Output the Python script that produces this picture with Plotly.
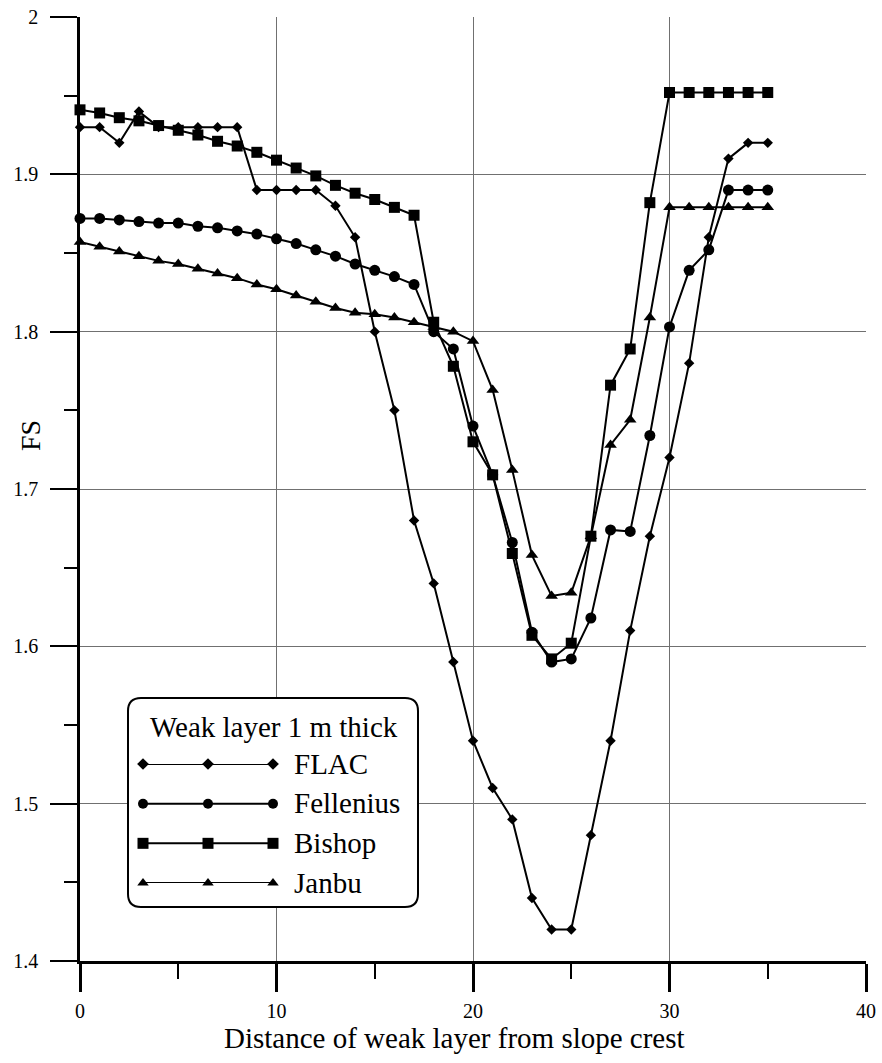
import plotly.graph_objects as go

# ---------------- data ----------------
distance = list(range(0, 36))

flac = [1.93, 1.93, 1.92, 1.94, 1.93, 1.93, 1.93, 1.93, 1.93, 1.89,
        1.89, 1.89, 1.89, 1.88, 1.86, 1.80, 1.75, 1.68, 1.64, 1.59,
        1.54, 1.51, 1.49, 1.44, 1.42, 1.42, 1.48, 1.54, 1.61, 1.67,
        1.72, 1.78, 1.86, 1.91, 1.92, 1.92]

fellenius = [1.872, 1.872, 1.871, 1.870, 1.869, 1.869, 1.867, 1.866, 1.864, 1.862,
             1.859, 1.856, 1.852, 1.848, 1.843, 1.839, 1.835, 1.830, 1.800, 1.789,
             1.740, 1.709, 1.666, 1.609, 1.590, 1.592, 1.618, 1.674, 1.673, 1.734,
             1.803, 1.839, 1.852, 1.890, 1.890, 1.890]

bishop = [1.941, 1.939, 1.936, 1.934, 1.931, 1.928, 1.925, 1.921, 1.918, 1.914,
          1.909, 1.904, 1.899, 1.893, 1.888, 1.884, 1.879, 1.874, 1.806, 1.778,
          1.730, 1.709, 1.659, 1.607, 1.592, 1.602, 1.670, 1.766, 1.789, 1.882,
          1.952, 1.952, 1.952, 1.952, 1.952, 1.952]

janbu = [1.857, 1.854, 1.851, 1.848, 1.845, 1.843, 1.840, 1.837, 1.834, 1.830,
         1.827, 1.823, 1.819, 1.815, 1.812, 1.811, 1.809, 1.806, 1.803, 1.800,
         1.794, 1.763, 1.712, 1.658, 1.632, 1.634, 1.670, 1.728, 1.744, 1.809,
         1.879, 1.879, 1.879, 1.879, 1.879, 1.879]

series_names = ["FLAC", "Fellenius", "Bishop", "Janbu"]
series_values = [flac, fellenius, bishop, janbu]
series_symbols = ["diamond", "circle", "square", "triangle-up"]
series_sizes = [8, 11, 11, 11]
legend_sizes = [9, 10, 11, 10]
legend_title = "Weak layer 1 m thick"

y_tickvals = [1.4, 1.5, 1.6, 1.7, 1.8, 1.9, 2.0]
y_ticktext = ["1.4", "1.5", "1.6", "1.7", "1.8", "1.9", "2"]
x_tickvals = [0, 10, 20, 30, 40]
x_ticktext = ["0", "10", "20", "30", "40"]

legend_sample_x = [0, 0.5, 1]

FONT = "Liberation Serif"
W, H = 882, 1063
ML, MR, MT, MB = 80, 16, 17, 102
PW, PH = W - ML - MR, H - MT - MB
X0, X1 = 0, 40
Y0, Y1 = 1.4, 2.0


def px_to_paper_x(px):
    return (px - ML) / PW


def px_to_paper_y(py):
    return (H - MB - py) / PH


def px_to_data_x(px):
    return X0 + (px - ML) / PW * (X1 - X0)


def px_to_data_y(py):
    return Y1 - (py - MT) / PH * (Y1 - Y0)


fig = go.Figure()

for name, vals, sym, sz in zip(series_names, series_values, series_symbols, series_sizes):
    fig.add_trace(go.Scatter(
        x=distance, y=vals, mode="lines+markers", name=name,
        line=dict(color="black", width=2),
        marker=dict(symbol=sym, size=sz, color="black"),
        showlegend=False, cliponaxis=False,
    ))

# custom legend samples (line with three markers) on an auxiliary axis
n = len(series_names)
for i, (name, sym, sz) in enumerate(zip(series_names, series_symbols, legend_sizes)):
    fig.add_trace(go.Scatter(
        x=legend_sample_x, y=[n - 1 - i] * len(legend_sample_x),
        mode="lines+markers", xaxis="x2", yaxis="y2",
        line=dict(color="black", width=2),
        marker=dict(symbol=sym, size=sz, color="black"),
        showlegend=False, cliponaxis=False, hoverinfo="skip",
    ))

# legend box (rounded) in data coordinates, between grid and data
bl, br = px_to_data_x(128), px_to_data_x(418)
bt, bb = px_to_data_y(698), px_to_data_y(907)
rx = 13 / PW * (X1 - X0)
ry = 13 / PH * (Y1 - Y0)
path = (f"M {bl+rx},{bt} L {br-rx},{bt} Q {br},{bt} {br},{bt-ry} "
        f"L {br},{bb+ry} Q {br},{bb} {br-rx},{bb} "
        f"L {bl+rx},{bb} Q {bl},{bb} {bl},{bb+ry} "
        f"L {bl},{bt-ry} Q {bl},{bt} {bl+rx},{bt} Z")
fig.add_shape(type="path", path=path, xref="x", yref="y", layer="between",
              fillcolor="white", line=dict(color="black", width=2))

entry_py = [764, 803, 843, 883]
annotations = []
for name, py in zip(series_names, entry_py):
    annotations.append(dict(
        x=px_to_paper_x(292), y=px_to_paper_y(py), xref="paper", yref="paper",
        text=name, showarrow=False, xanchor="left", yanchor="middle",
        font=dict(family=FONT, size=29, color="black")))
annotations.append(dict(
    x=px_to_paper_x(274), y=px_to_paper_y(727), xref="paper", yref="paper",
    text=legend_title, showarrow=False, xanchor="center", yanchor="middle",
    font=dict(family=FONT, size=29, color="black")))
# axis titles
annotations.append(dict(
    x=px_to_paper_x(454), y=px_to_paper_y(1038), xref="paper", yref="paper",
    text="Distance of weak layer from slope crest", showarrow=False,
    xanchor="center", yanchor="middle", borderpad=0,
    font=dict(family=FONT, size=29, color="black")))
annotations.append(dict(
    x=px_to_paper_x(30), y=px_to_paper_y(436), xref="paper", yref="paper",
    text="FS", showarrow=False, textangle=-90,
    xanchor="center", yanchor="middle",
    font=dict(family=FONT, size=28, color="black")))

fig.update_layout(
    width=W, height=H,
    margin=dict(l=ML, r=MR, t=MT, b=MB, autoexpand=False),
    paper_bgcolor="white", plot_bgcolor="white",
    font=dict(family=FONT, size=20, color="black"),
    showlegend=False,
    annotations=annotations,
    xaxis=dict(
        range=[X0, X1], tickvals=x_tickvals, ticktext=x_ticktext,
        showgrid=True, gridcolor="#707070", gridwidth=1.2,
        showline=True, linecolor="black", linewidth=3,
        ticks="outside", ticklen=28, tickwidth=3, tickcolor="black",
        ticklabelstandoff=2, automargin=False,
        minor=dict(dtick=5, ticks="outside", ticklen=15, tickwidth=2,
                   tickcolor="black", showgrid=False),
        zeroline=False, tickfont=dict(family=FONT, size=20, color="black"),
    ),
    yaxis=dict(
        range=[Y0, Y1], tickvals=y_tickvals, ticktext=y_ticktext,
        showgrid=True, gridcolor="#707070", gridwidth=1.2,
        showline=True, linecolor="black", linewidth=2.5,
        ticks="outside", ticklen=27, tickwidth=2, tickcolor="black",
        ticklabelstandoff=8, automargin=False,
        minor=dict(dtick=0.05, ticks="outside", ticklen=13, tickwidth=2,
                   tickcolor="black", showgrid=False),
        zeroline=False, tickfont=dict(family=FONT, size=20, color="black"),
    ),
    xaxis2=dict(domain=[px_to_paper_x(143), px_to_paper_x(273)], range=[0, 1],
                anchor="y2", visible=False, fixedrange=True),
    yaxis2=dict(domain=[px_to_paper_y(883), px_to_paper_y(764)], range=[0, n - 1],
                anchor="x2", visible=False, fixedrange=True),
)

fig.write_html(
    "out.html",
    config={"displayModeBar": False},
    post_script="document.body.style.margin='0';document.body.style.overflow='hidden';",
)
